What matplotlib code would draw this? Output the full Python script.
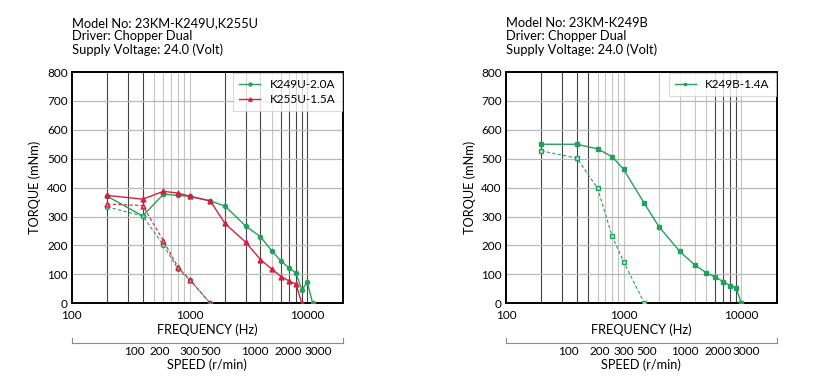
import numpy as np
import matplotlib; matplotlib.use("Agg"); import matplotlib.pyplot as plt

plt.rcParams['font.family'] = ['Lato', 'DejaVu Sans']

GREEN = "#23a05c"
RED = "#d3203f"

# ---- left chart: 23KM-K249U / K255U ----
k249u_hz = [200, 400, 600, 800, 1000, 1500, 2000, 3000, 4000, 5000, 6000, 7000, 8000, 9000, 10000, 11100]
k249u_out = [370, 302, 377, 373, 370, 354, 336, 267, 230, 181, 145, 122, 105, 45, 74, 0]
k249u_in_hz = [200, 400, 600, 800, 1000, 1500]
k249u_in = [333, 302, 201, 117, 82, 0]
k255u_hz = [200, 400, 600, 800, 1000, 1500, 2000, 3000, 4000, 5000, 6000, 7000, 8000, 9000]
k255u_out = [373, 360, 387, 381, 370, 354, 276, 211, 151, 118, 92, 77, 66, 0]
k255u_in_hz = [200, 400, 600, 800, 1000, 1500]
k255u_in = [343, 338, 216, 124, 82, 0]

# ---- right chart: 23KM-K249B ----
k249b_hz = [200, 400, 600, 800, 1000, 1500, 2000, 3000, 4000, 5000, 6000, 7000, 8000, 9000, 10000]
k249b_out = [550, 550, 534, 507, 463, 345, 264, 179, 133, 106, 90, 75, 61, 54, 0]
k249b_in_hz = [200, 400, 600, 800, 1000, 1500]
k249b_in = [527, 502, 398, 231, 143, 0]

# speed scale labels (r/min) and where they sit on the frequency axis
speed_labels = ["100", "200", "300", "500", "1000", "2000", "3000"]
speed_pos_left = [343, 561, 1009, 1524, 3600, 6890, 12400]
speed_pos_right = [338, 628, 1000, 1563, 3300, 6340, 10900]

# vertical grid: which lines print dark vs grey
grid_hz = [200, 300, 400, 500, 600, 700, 800, 900, 1000,
           2000, 3000, 4000, 5000, 6000, 7000, 8000, 9000, 10000]
dark_left = [200, 300, 400, 2000, 3000, 4000, 6000, 7000, 8000, 9000, 10000]
dark_right = [200, 300, 400, 500, 6000, 7000, 8000, 9000]

titles = ["Model No: 23KM-K249U,K255U\nDriver: Chopper Dual\nSupply Voltage: 24.0 (Volt)",
          "Model No: 23KM-K249B\nDriver: Chopper Dual\nSupply Voltage: 24.0 (Volt)"]

fig = plt.figure(figsize=(8.16, 3.79), dpi=100)
lefts = [0.088, 0.620]
W, B, H = 0.332, 0.200, 0.610


def setup(ax, dark, speed_pos, title):
    ax.set_xscale("log")
    ax.set_xlim(100, 20000)
    ax.set_ylim(0, 800)
    for f in grid_hz:
        ax.axvline(f, color="#444444" if f in dark else "#c4c4c4", lw=0.8, zorder=1)
    for t in range(100, 800, 100):
        ax.axhline(t, color="#b8b8b8", lw=0.9, zorder=1)
    ax.set_xticks([100, 1000, 10000], ["100", "1000", "10000"])
    ax.xaxis.set_minor_locator(plt.NullLocator())
    ax.set_yticks(range(0, 801, 100))
    ax.tick_params(axis="y", length=0, labelsize=8.5, pad=3)
    ax.tick_params(axis="x", length=0, labelsize=8.5, pad=5)
    for s in ax.spines.values():
        s.set_linewidth(1.4)
    ax.set_xlabel("FREQUENCY (Hz)", fontsize=9.2, labelpad=2)
    ax.set_ylabel("TORQUE (mNm)", fontsize=9.2, labelpad=4)
    ax.text(0.0, 1.07, title, transform=ax.transAxes, fontsize=9.3, va="bottom", ha="left", linespacing=1.12)
    # speed scale below
    pos = ax.get_position()
    sx = fig.add_axes([pos.x0, 0.095, pos.width, 0.012])
    sx.set_xscale("log")
    sx.set_xlim(100, 20000)
    sx.set_yticks([])
    sx.spines["top"].set_visible(False)
    for k in ("bottom", "left", "right"):
        sx.spines[k].set_color("#8a8a8a")
        sx.spines[k].set_linewidth(0.8)
    sx.set_xticks(speed_pos, speed_labels)
    sx.xaxis.set_minor_locator(plt.NullLocator())
    sx.tick_params(length=0, labelsize=8.5, pad=2)
    sx.set_xlabel("SPEED (r/min)", fontsize=9.2, labelpad=1)
    sx.patch.set_alpha(0)


ax1 = fig.add_axes([lefts[0], B, W, H])
setup(ax1, dark_left, speed_pos_left, titles[0])
ax1.plot(k249u_hz, k249u_out, color=GREEN, lw=1.0, marker="o", ms=3, zorder=3, label="K249U-2.0A")
ax1.plot(k255u_hz, k255u_out, color=RED, lw=1.0, marker="^", ms=3.5, zorder=3, label="K255U-1.5A")
ax1.plot(k249u_in_hz, k249u_in, color=GREEN, lw=0.8, ls=(0, (3, 2)), marker="o", ms=3,
         mfc="#8fcfa8", zorder=3)
ax1.plot(k255u_in_hz, k255u_in, color=RED, lw=0.8, ls=(0, (3, 2)), marker="^", ms=3.5,
         mfc="#e58a9a", zorder=3)
leg = ax1.legend(loc="upper right", fontsize=8.5, frameon=True, fancybox=False, borderaxespad=0.1,
                 handlelength=1.8, markerscale=0.7, borderpad=0.5, labelspacing=0.3)
leg.get_frame().set_edgecolor("#d0d0d0")
leg.get_frame().set_linewidth(0.8)

ax2 = fig.add_axes([lefts[1], B, W, H])
setup(ax2, dark_right, speed_pos_right, titles[1])
ax2.plot(k249b_hz, k249b_out, color=GREEN, lw=1.0, marker="s", ms=2.8, zorder=3, label="K249B-1.4A")
ax2.plot(k249b_in_hz, k249b_in, color=GREEN, lw=0.8, ls=(0, (3, 2)), marker="s", ms=3,
         mfc="#b8e0c6", zorder=3)
leg = ax2.legend(loc="upper right", fontsize=8.5, frameon=True, fancybox=False, borderaxespad=0.1,
                 handlelength=1.8, markerscale=0.7, borderpad=0.5)
leg.get_frame().set_edgecolor("#d0d0d0")
leg.get_frame().set_linewidth(0.8)

fig.savefig("out.png", dpi=100)
